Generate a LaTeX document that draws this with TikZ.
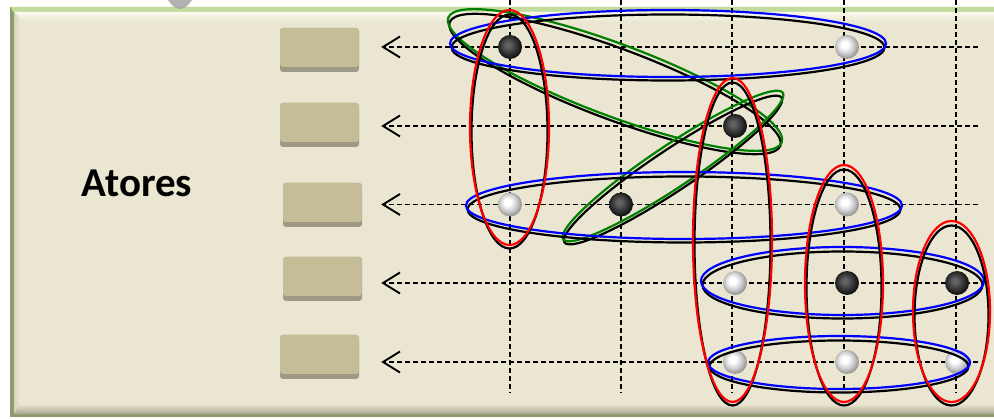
\documentclass[tikz,border=0pt]{standalone}
\usepackage{fontspec}
\setmainfont{Carlito}
\usetikzlibrary{arrows.meta}
\definecolor{panel}{RGB}{234,230,209}
\definecolor{edgegreen}{RGB}{141,156,108}
\definecolor{topgreen}{RGB}{196,219,158}
\definecolor{bevlight}{RGB}{250,249,236}
\definecolor{leftbev}{RGB}{214,212,190}
\definecolor{botdark}{RGB}{168,167,142}
\definecolor{btnfill}{RGB}{196,189,151}
\definecolor{btnshadow}{RGB}{158,154,133}
\definecolor{ogreen}{RGB}{0,128,0}
\pgfdeclareradialshading{wball}{\pgfpoint{-6bp}{6bp}}{color(0bp)=(white); color(7bp)=(white); color(17bp)=(black!18); color(25bp)=(black!38); color(50bp)=(black!38)}
\pgfdeclareradialshading{bball}{\pgfpoint{-5bp}{5bp}}{color(0bp)=(black!62); color(5bp)=(black!62); color(17bp)=(black!80); color(25bp)=(black!92); color(50bp)=(black!92)}
\newcommand\dellipse[6]{%
  \draw[black, line width=2.2pt, shift={(#2,#3-4)}, rotate=#6] (0,0) ellipse [x radius=#4pt-1.5pt, y radius=#5pt-0.5pt];
  \draw[#1, line width=2.2pt, shift={(#2,#3)}, rotate=#6] (0,0) ellipse [x radius=#4pt, y radius=#5pt];}
\tikzset{
  btn/.style={rectangle, minimum width=79pt, minimum height=44pt, inner sep=0pt,
    rounded corners=3pt, fill=btnshadow,
    path picture={\fill[btnfill, rounded corners=3pt] (path picture bounding box.north west) rectangle ([yshift=5pt]path picture bounding box.south east);}},
  wb/.style={circle, minimum size=24pt, inner sep=0pt, shading=wball},
  bb/.style={circle, minimum size=24pt, inner sep=0pt, shading=bball},
  gridline/.style={black, line width=1.7pt, dash pattern=on 5pt off 3pt},
  dasharrow/.style={gridline, -{Straight Barb[length=17pt,width=21pt,line width=1.9pt]}},
}
\begin{document}
\begin{tikzpicture}[x=1pt,y=1pt]
\useasboundingbox (0,0) rectangle (994,418);
\fill[white] (0,0) rectangle (994,418);
% panel
\fill[edgegreen] (10,1) rectangle (994,411);
\fill[panel] (15,5) rectangle (994,406);
\fill[topgreen] (13,406) -- (994,406) -- (994,411) -- (11,411) -- cycle;
\shade[top color=bevlight, bottom color=panel] (14,406) -- (994,406) -- (994,396) -- (24,396) -- cycle;
\shade[left color=leftbev, right color=panel] (14,406) -- (20,398) -- (20,12) -- (14,4) -- cycle;
\shade[top color=panel, bottom color=botdark] (20,14) -- (994,14) -- (994,4) -- (14,4) -- cycle;
\fill[gray!75, opacity=0.8] (168,418) .. controls (172,412) and (176,409) .. (180,409) .. controls (184,409) and (188,412) .. (192,418) -- cycle;
% text
\node[font=\bfseries\fontsize{41}{42}\selectfont, anchor=base, inner sep=0pt] (atores) at (137,221) {Atores};
% buttons
\node[btn] (b1) at (319.5,368) {};
\node[btn] (b2) at (319.5,293) {};
\node[btn] (b3) at (322.5,213) {};
\node[btn] (b4) at (322.5,139) {};
\node[btn] (b5) at (319.5,61) {};
% grid
\foreach \i/\x in {1/510,2/621,3/732,4/844,5/956}{
  \coordinate (v\i t) at (\x,418);
  \coordinate (v\i b) at (\x,25);
  \draw[gridline] (v\i t) -- (v\i b);
}
\coordinate (e1) at (978,371);
\coordinate (e2) at (978,292);
\coordinate (e3) at (978,213.5);
\coordinate (e4) at (978,135);
\coordinate (e5) at (978,56);
\draw[dasharrow, shorten >=22pt] (e1) -- (b1.east |- e1);
\draw[dasharrow, shorten >=22pt] (e2) -- (b2.east |- e2);
\draw[dasharrow, shorten >=19pt] (e3) -- (b3.east |- e3);
\draw[dasharrow, shorten >=19pt] (e4) -- (b4.east |- e4);
\draw[dasharrow, shorten >=22pt] (e5) -- (b5.east |- e5);
% balls
\node[bb] (p11) at (510,371) {};
\node[wb] (p14) at (847,371) {};
\node[bb] (p23) at (735,292) {};
\node[wb] (p31) at (510,213.5) {};
\node[bb] (p32) at (621,213.5) {};
\node[wb] (p34) at (847,213.5) {};
\node[wb] (p43) at (735,135) {};
\node[bb] (p44) at (847,135) {};
\node[bb] (p45) at (957,135) {};
\node[wb] (p53) at (735,56) {};
\node[wb] (p54) at (847,56) {};
\node[wb] (p55) at (957,56) {};
% ellipses
\dellipse{ogreen}{615}{338}{178}{36}{-20.5}
\dellipse{ogreen}{673}{252}{132}{21}{33.7}
\dellipse{blue}{668}{374.5}{218}{33.5}{0}
\dellipse{blue}{684}{212.5}{218}{33.5}{0}
\dellipse{blue}{842.5}{137}{141.5}{34}{0}
\dellipse{blue}{839}{55.5}{131}{26.5}{0}
\dellipse{red}{509.5}{290.5}{39.5}{117.5}{0}
\dellipse{red}{732.5}{178}{39.5}{162}{0}
\dellipse{red}{844}{134.5}{39}{118.5}{0}
\dellipse{red}{951.5}{106.5}{38.5}{90.5}{0}
\end{tikzpicture}
\end{document}
